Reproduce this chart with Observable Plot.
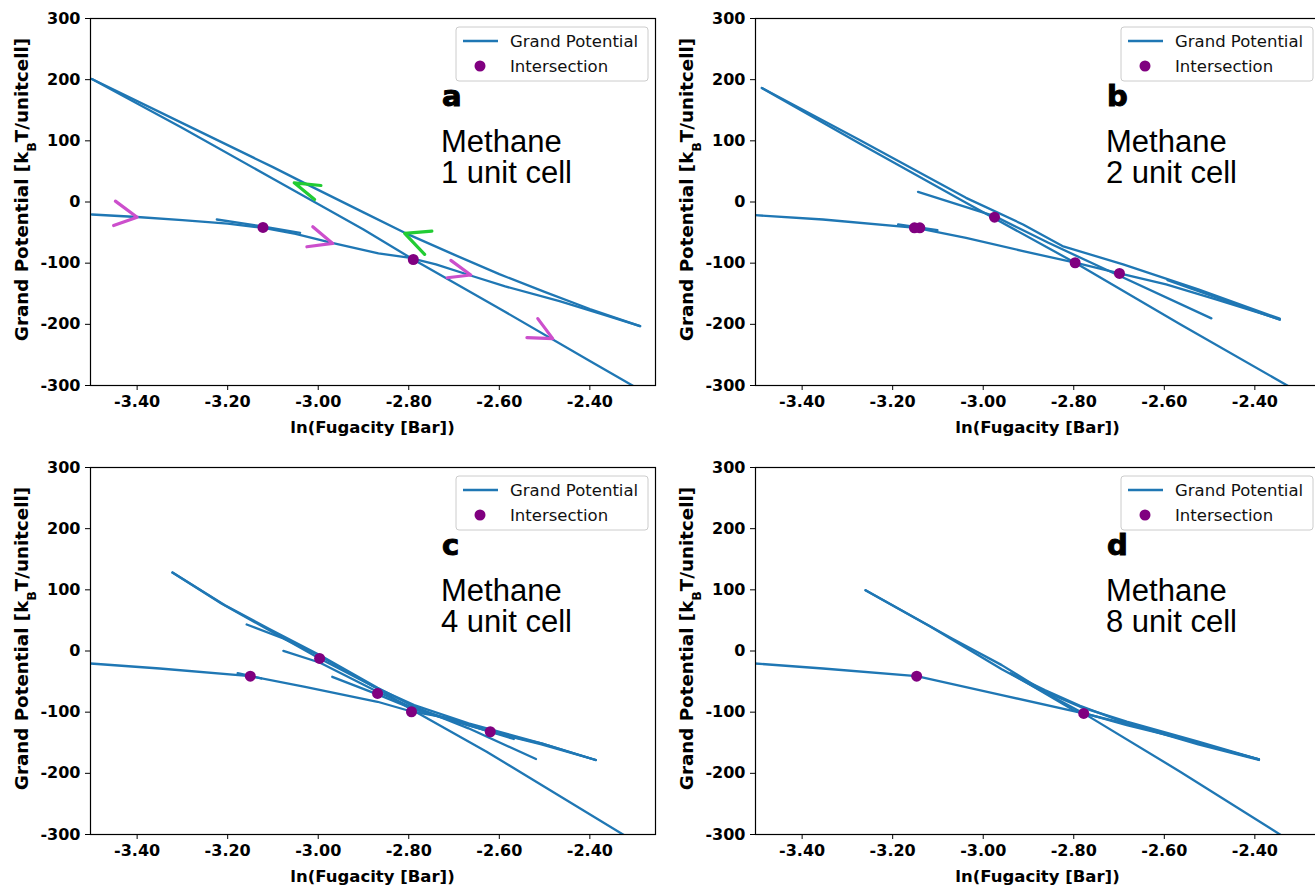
<!DOCTYPE html>
<html><head><meta charset="utf-8">
<script src="https://cdn.jsdelivr.net/npm/d3@7"></script>
<script src="https://cdn.jsdelivr.net/npm/@observablehq/plot@0.6"></script>
<style>
html,body{margin:0;padding:0;background:#fff;}
#wrap{position:relative;width:1315px;height:885px;overflow:hidden;background:#fff;}
.panel{position:absolute;width:665px;height:450px;}
.panel svg{max-width:none !important;}
</style></head><body><div id="wrap"></div>
<script>
// ---------- texts / ticks ----------
const xTicks = [-3.4, -3.2, -3.0, -2.8, -2.6, -2.4];
const yTicks = [-300, -200, -100, 0, 100, 200, 300];
const panelLetters = ["a", "b", "c", "d"];
const cellLabels = ["1 unit cell", "2 unit cell", "4 unit cell", "8 unit cell"];
const speciesName = "Methane";
const legendLabels = ["Grand Potential", "Intersection"];
const xLabel = "ln(Fugacity [Bar])";

// ---------- panel a ----------
const linesA = [
  [[-3.50,-20.4],[-3.40,-24.5],[-3.30,-29.5],[-3.20,-35.5],[-3.124,-42],[-3.05,-52],[-2.972,-66.5],[-2.867,-84],[-2.80,-91],[-2.74,-102],[-2.66,-121],[-2.587,-138],[-2.467,-162],[-2.37,-184],[-2.289,-203]],
  [[-3.224,-28.6],[-3.13,-39],[-3.040,-50.3]],
  [[-3.50,201],[-3.30,129],[-3.10,57],[-3.028,30],[-2.90,-17],[-2.81,-50],[-2.70,-86],[-2.60,-118],[-2.50,-147],[-2.40,-175],[-2.289,-203]],
  [[-3.50,201],[-3.30,121],[-3.10,38],[-3.028,8],[-2.90,-45],[-2.79,-94],[-2.60,-174],[-2.40,-260],[-2.28,-311]]
];
const dotsA = [[-3.122,-41.5],[-2.790,-94]];
const magentaArrowsA = [
  [[-3.448,1.4],[-3.400,-24.8],[-3.452,-38.4]],
  [[-3.012,-40.5],[-2.968,-67.7],[-3.025,-73.2]],
  [[-2.707,-95.5],[-2.663,-119.4],[-2.715,-123.8]],
  [[-2.515,-190.7],[-2.482,-223.4],[-2.539,-221.8]]
];
const greenArrowsA = [
  [[-2.994,27.0],[-3.053,31.3],[-3.008,4.1]],
  [[-2.749,-47.6],[-2.809,-51.4],[-2.765,-85.7]]
];

// ---------- panel b ----------
const linesB = [
  [[-3.505,-21.5],[-3.354,-28.6],[-3.148,-42.2],[-3.038,-58.5],[-2.912,-80.3],[-2.797,-99.3],[-2.699,-116.7],[-2.596,-134.7],[-2.486,-159.2],[-2.345,-191.8]],
  [[-3.188,-36.7],[-3.101,-46.0]],
  [[-3.144,16.6],[-2.975,-23.1],[-2.856,-66.7],[-2.722,-112.9],[-2.496,-190.2]],
  [[-3.489,186.4],[-3.275,96.6],[-3.038,-1.4],[-2.797,-99.3],[-2.565,-200],[-2.30,-312]],
  [[-3.489,186.4],[-3.275,102],[-3.038,6.8],[-2.912,-36.7],[-2.825,-72.1],[-2.691,-102],[-2.525,-142.8],[-2.345,-190.7]],
  [[-2.593,-127.6],[-2.47,-160],[-2.345,-192.5]]
];
const dotsB = [[-3.152,-42.2],[-3.140,-42.2],[-2.975,-24.8],[-2.797,-99.3],[-2.699,-116.7]];

// ---------- panel c ----------
const linesC = [
  [[-3.503,-20.4],[-3.350,-28.6],[-3.150,-41.1],[-3.029,-58.5],[-2.869,-83.0],[-2.792,-99.3],[-2.708,-110.2],[-2.620,-132.0],[-2.507,-151.0],[-2.387,-178.2]],
  [[-3.178,-36.2],[-3.126,-44.9]],
  [[-3.322,128.2],[-3.214,77.6],[-2.997,-12.2],[-2.869,-61.2],[-2.792,-96.6],[-2.628,-164.6],[-2.30,-312]],
  [[-3.322,128.2],[-3.206,74.9],[-3.110,36.8],[-2.997,-6.7],[-2.869,-60.0],[-2.788,-91.0],[-2.668,-126.4],[-2.519,-176.5]],
  [[-3.158,43.3],[-3.077,20.4],[-2.997,-7.9],[-2.877,-58.5],[-2.788,-88.4],[-2.668,-118.4],[-2.507,-151.0],[-2.387,-178.2]],
  [[-3.077,0.3],[-2.997,-18.8],[-2.869,-66.7],[-2.788,-93.9],[-2.668,-121.1],[-2.568,-143.9]],
  [[-2.969,-42.2],[-2.869,-71.0],[-2.788,-95.5],[-2.708,-112.9],[-2.620,-132.0],[-2.507,-152.6],[-2.387,-178.2]]
];
const dotsC = [[-3.150,-41.1],[-2.997,-12.2],[-2.869,-69.4],[-2.794,-99.3],[-2.620,-132.0]];

// ---------- panel d ----------
const linesD = [
  [[-3.505,-20.4],[-3.354,-28.6],[-3.147,-41.1],[-2.959,-72.1],[-2.778,-102.0],[-2.643,-126.5],[-2.525,-151.0],[-2.391,-177.1]],
  [[-3.260,99.3],[-3.117,40],[-2.959,-30],[-2.778,-102.0],[-2.565,-197.3],[-2.28,-330]],
  [[-3.260,99.3],[-3.069,20.4],[-2.959,-23.1],[-2.864,-66.7],[-2.786,-91.2],[-2.683,-115.6],[-2.525,-148.3],[-2.391,-177.1]],
  [[-2.939,-36.7],[-2.864,-63.9],[-2.786,-89.5],[-2.683,-118.4],[-2.525,-152.6],[-2.391,-178.2]],
  [[-2.939,-36.7],[-2.801,-96.6],[-2.683,-121.1],[-2.525,-150],[-2.391,-177.1]]
];
const dotsD = [[-3.147,-41.1],[-2.778,-102.0]];

// ---------- build ----------
const panels = [
  {lines: linesA, dots: dotsA, magenta: magentaArrowsA, green: greenArrowsA},
  {lines: linesB, dots: dotsB, magenta: [], green: []},
  {lines: linesC, dots: dotsC, magenta: [], green: []},
  {lines: linesD, dots: dotsD, magenta: [], green: []}
];
const offsets = [[0,0],[665,0],[0,449],[665,449]];
const W = 665, H = 450, ML = 90, MR = 10, MT = 18, MB = 65;
const FW = W - ML - MR, FH = H - MT - MB;
const blue = "#1f77b4", purple = "#800080";

function toRows(series) {
  return series.flatMap((s, i) => s.map(([x, y]) => ({id: i, x, y})));
}

const wrap = document.getElementById("wrap");
panels.forEach((p, i) => {
  const svg = Plot.plot({
    width: W, height: H,
    marginLeft: ML, marginRight: MR, marginTop: MT, marginBottom: MB,
    x: {domain: [-3.503, -2.255], ticks: xTicks, tickFormat: d => d.toFixed(2), label: null, tickSize: 5, tickPadding: 5},
    y: {domain: [-300, 300], ticks: yTicks, tickFormat: d => String(d), label: null, tickSize: 5, tickPadding: 5},
    style: {fontFamily: "DejaVu Sans", fontSize: "16px", fontWeight: "bold", color: "black", background: "white", overflow: "visible", maxWidth: "none"},
    marks: [
      Plot.line(toRows(p.lines), {x: "x", y: "y", z: "id", stroke: blue, strokeWidth: 2.3, clip: true}),
      Plot.dot(p.dots, {x: d => d[0], y: d => d[1], r: 5.5, fill: purple, clip: true}),
      Plot.line(toRows(p.magenta), {x: "x", y: "y", z: "id", stroke: "#cc4fcc", strokeWidth: 3.2, clip: true}),
      Plot.line(toRows(p.green), {x: "x", y: "y", z: "id", stroke: "#22cc33", strokeWidth: 3.2, clip: true}),
      Plot.frame({stroke: "black", strokeWidth: 1.2})
    ]
  });
  const div = document.createElement("div");
  div.className = "panel";
  div.style.left = offsets[i][0] + "px";
  div.style.top = offsets[i][1] + "px";
  div.appendChild(svg);
  wrap.appendChild(div);

  const s = d3.select(svg);
  // legend
  const g = s.append("g").attr("font-family", "DejaVu Sans").attr("font-weight", "normal").attr("font-size", 16.5).attr("text-anchor", "start");
  g.append("rect").attr("x", ML + 366).attr("y", MT + 9).attr("width", 192).attr("height", 54).attr("rx", 3)
    .attr("fill", "white").attr("fill-opacity", 0.8).attr("stroke", "#cccccc");
  g.append("line").attr("x1", ML + 373).attr("x2", ML + 408).attr("y1", MT + 23).attr("y2", MT + 23)
    .attr("stroke", blue).attr("stroke-width", 2.3);
  g.append("text").attr("x", ML + 420).attr("y", MT + 23).attr("dy", "0.35em").attr("fill", "#111").text(legendLabels[0]);
  g.append("circle").attr("cx", ML + 390).attr("cy", MT + 48).attr("r", 5.5).attr("fill", purple);
  g.append("text").attr("x", ML + 420).attr("y", MT + 48).attr("dy", "0.35em").attr("fill", "#111").text(legendLabels[1]);
  // panel letter
  s.append("text").attr("x", ML + 352).attr("y", MT + 88).attr("text-anchor", "start").attr("font-family", "DejaVu Sans").attr("font-weight", "bold")
    .attr("font-size", 29).attr("stroke", "black").attr("stroke-width", 1).attr("fill", "black").text(panelLetters[i]);
  // species + cell
  const t = s.append("g").attr("font-family", "Liberation Sans").attr("font-weight", "normal").attr("font-size", 31).attr("fill", "black").attr("text-anchor", "start");
  t.append("text").attr("x", ML + 351).attr("y", MT + 134).text(speciesName);
  t.append("text").attr("x", ML + 351).attr("y", MT + 165).text(cellLabels[i]);
  // x label
  s.append("text").attr("x", ML + FW / 2).attr("y", MT + FH + 42).attr("dy", "0.35em").attr("text-anchor", "middle")
    .attr("font-size", 16.5).attr("font-weight", "bold").text(xLabel);
  // y label with subscript
  const yl = s.append("text").attr("transform", `translate(22,${MT + FH / 2 - 12}) rotate(-90)`).attr("text-anchor", "middle")
    .attr("dy", "0.35em").attr("font-size", 18.3).attr("font-weight", "bold");
  yl.append("tspan").text("Grand Potential [k");
  yl.append("tspan").attr("baseline-shift", "sub").attr("font-size", 12.5).text("B");
  yl.append("tspan").text("T/unitcell]");
});
</script></body></html>
